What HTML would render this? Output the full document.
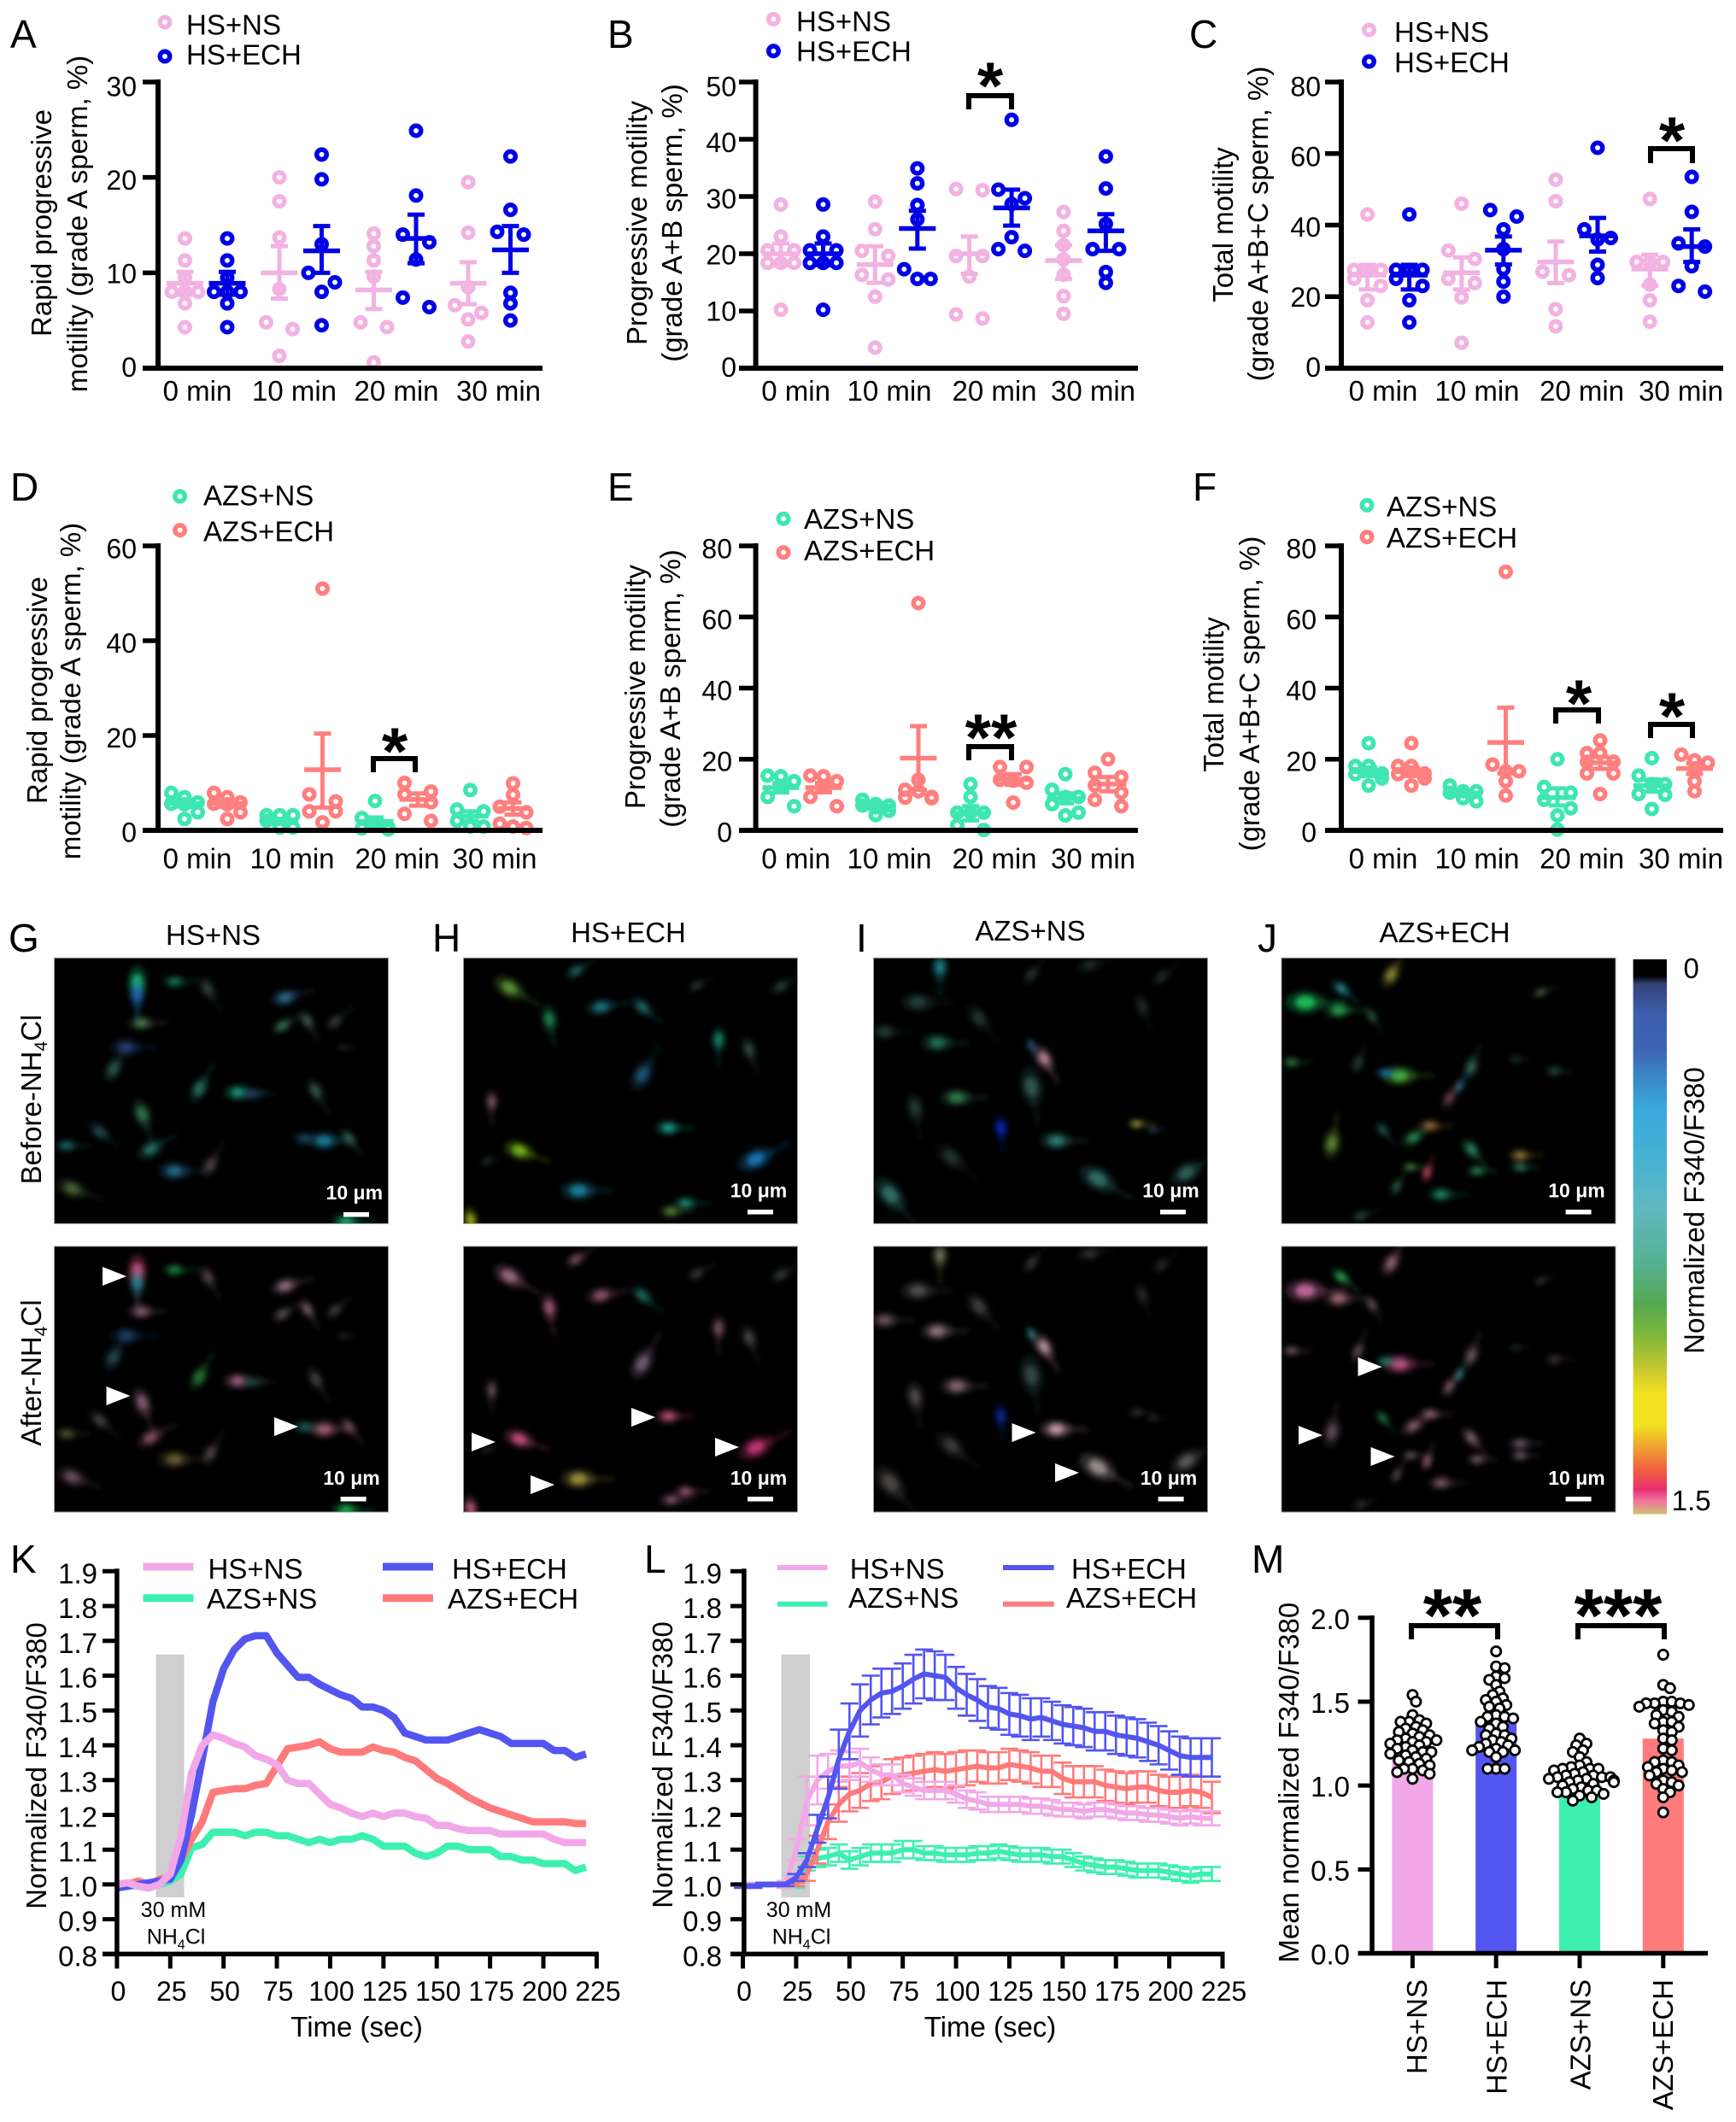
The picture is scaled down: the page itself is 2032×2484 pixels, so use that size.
<!DOCTYPE html>
<html lang="en">
<head>
<meta charset="utf-8">
<title>Sperm motility and calcium response figure</title>
<style>
html,body{margin:0;padding:0;background:#fff;}
svg{display:block;}
text{font-family:"Liberation Sans",Arial,sans-serif;fill:#000;}
.t33{font-size:33px;}
.t32{font-size:32px;}
.let{font-size:46px;}
.star{font-size:78px;font-weight:bold;text-anchor:middle;}
.starm{font-size:88px;font-weight:bold;text-anchor:middle;}
.bk{fill:none;stroke:#000;stroke-width:6;}
.mid{text-anchor:middle;}
.sub{font-size:21px;}
</style>
</head>
<body>
<svg id="figure" xmlns="http://www.w3.org/2000/svg" width="2032" height="2484" viewBox="0 0 2032 2484">
<defs>
<filter id="soft" x="-20%" y="-20%" width="140%" height="140%"><feGaussianBlur stdDeviation="3.2"/></filter>
<linearGradient id="cbar" x1="0" y1="0" x2="0" y2="1">
<stop offset="0" stop-color="#000"/><stop offset=".03" stop-color="#000"/><stop offset=".045" stop-color="#33437a"/>
<stop offset=".1" stop-color="#3d5fae"/><stop offset=".16" stop-color="#3f62b5"/><stop offset=".2" stop-color="#3a80c0"/>
<stop offset=".27" stop-color="#3aa8dc"/><stop offset=".33" stop-color="#40b0d8"/><stop offset=".45" stop-color="#60b8c0"/>
<stop offset=".55" stop-color="#55b090"/><stop offset=".62" stop-color="#55a850"/><stop offset=".68" stop-color="#80b838"/>
<stop offset=".74" stop-color="#c8c830"/><stop offset=".78" stop-color="#f0e020"/><stop offset=".84" stop-color="#f0e020"/>
<stop offset=".88" stop-color="#f0a030"/><stop offset=".92" stop-color="#f06040"/><stop offset=".955" stop-color="#e83070"/>
<stop offset=".975" stop-color="#f070a0"/><stop offset="1" stop-color="#d0c070"/>
</linearGradient>
</defs>

<!-- panel letters -->
<g>
<text class="let" x="12" y="56">A</text>
<text class="let" x="711" y="56">B</text>
<text class="let" x="1392" y="56">C</text>
<text class="let" x="12" y="586">D</text>
<text class="let" x="711" y="586">E</text>
<text class="let" x="1396" y="586">F</text>
<text class="let" x="10" y="1114">G</text>
<text class="let" x="506" y="1114">H</text>
<text class="let" x="1002" y="1114">I</text>
<text class="let" x="1472" y="1114">J</text>
<text class="let" x="12" y="1841">K</text>
<text class="let" x="754" y="1841">L</text>
<text class="let" x="1465" y="1841">M</text>
</g>

<!-- dot panel titles -->
<g>
<text class="t33 mid" transform="translate(60,261) rotate(-90)">Rapid progressive</text>
<text class="t33 mid" transform="translate(102,262) rotate(-90)">motility (grade A sperm, %)</text>
<text class="t33 mid" transform="translate(757,261) rotate(-90)">Progressive motility</text>
<text class="t33 mid" transform="translate(798,261) rotate(-90)">(grade A+B sperm, %)</text>
<text class="t33 mid" transform="translate(1443,263) rotate(-90)">Total motility</text>
<text class="t33 mid" transform="translate(1484,262) rotate(-90)">(grade A+B+C sperm, %)</text>
<text class="t33 mid" transform="translate(55,808) rotate(-90)">Rapid progressive</text>
<text class="t33 mid" transform="translate(94,809) rotate(-90)">motility (grade A sperm, %)</text>
<text class="t33 mid" transform="translate(755,804) rotate(-90)">Progressive motility</text>
<text class="t33 mid" transform="translate(796,806) rotate(-90)">(grade A+B sperm, %)</text>
<text class="t33 mid" transform="translate(1432,813) rotate(-90)">Total motility</text>
<text class="t33 mid" transform="translate(1474,812) rotate(-90)">(grade A+B+C sperm, %)</text>
</g>

<!-- dot panel legends -->
<g fill="none" stroke-width="5.5">
<circle cx="193" cy="26" r="5.75" stroke="#f2b2e2"/>
<circle cx="193" cy="66" r="5.75" stroke="#0000e6"/>
<circle cx="905.4" cy="22.5" r="5.75" stroke="#f2b2e2"/>
<circle cx="905.4" cy="59.7" r="5.75" stroke="#0000e6"/>
<circle cx="1602.5" cy="35" r="5.75" stroke="#f2b2e2"/>
<circle cx="1602.5" cy="72" r="5.75" stroke="#0000e6"/>
<circle cx="210.6" cy="581" r="5.75" stroke="#3fe6b2"/>
<circle cx="210.6" cy="620.6" r="5.75" stroke="#ff7f7f"/>
<circle cx="917" cy="607.3" r="5.75" stroke="#3fe6b2"/>
<circle cx="917" cy="646.8" r="5.75" stroke="#ff7f7f"/>
<circle cx="1600" cy="591.4" r="5.75" stroke="#3fe6b2"/>
<circle cx="1600" cy="628.6" r="5.75" stroke="#ff7f7f"/>
</g>
<g>
<text class="t33" x="218" y="40.5">HS+NS</text>
<text class="t33" x="218" y="75.6">HS+ECH</text>
<text class="t33" x="932" y="36.5">HS+NS</text>
<text class="t33" x="932" y="71.3">HS+ECH</text>
<text class="t33" x="1632" y="49">HS+NS</text>
<text class="t33" x="1632" y="84.6">HS+ECH</text>
<text class="t33" x="238" y="591.4">AZS+NS</text>
<text class="t33" x="238" y="633.5">AZS+ECH</text>
<text class="t33" x="941" y="619">AZS+NS</text>
<text class="t33" x="941" y="656">AZS+ECH</text>
<text class="t33" x="1623" y="604.7">AZS+NS</text>
<text class="t33" x="1623" y="641">AZS+ECH</text>
</g>

<g id="plots"></g>

<!-- significance brackets -->
<g>
<path class="bk" d="M1134 128V112H1184V128"/>
<text class="star" x="1159" y="127">*</text>
<path class="bk" d="M1932 191V174H1981V191"/>
<text class="star" x="1957" y="191">*</text>
<path class="bk" d="M437 904V888H486V904"/>
<text class="star" x="462" y="906">*</text>
<path class="bk" d="M1134 890V874H1184V890"/>
<text class="star" x="1160" y="890">**</text>
<path class="bk" d="M1821 847V831H1871V847"/>
<text class="star" x="1848" y="850">*</text>
<path class="bk" d="M1932 864V848H1981V864"/>
<text class="star" x="1957" y="865">*</text>
<path class="bk" d="M1652 1919V1903H1753V1919"/>
<text class="starm" x="1700" y="1921">**</text>
<path class="bk" d="M1847 1919V1903H1948V1919"/>
<text class="starm" x="1894" y="1921">***</text>
</g>

<!-- microscopy labels -->
<g>
<text class="t33 mid" x="249.5" y="1106">HS+NS</text>
<text class="t33 mid" x="735.5" y="1103">HS+ECH</text>
<text class="t33 mid" x="1206" y="1101">AZS+NS</text>
<text class="t33 mid" x="1691" y="1103">AZS+ECH</text>
<text class="t33 mid" transform="translate(48,1287) rotate(-90)">Before-NH<tspan class="sub" dy="7">4</tspan><tspan dy="-7">Cl</tspan></text>
<text class="t33 mid" transform="translate(48,1607) rotate(-90)">After-NH<tspan class="sub" dy="7">4</tspan><tspan dy="-7">Cl</tspan></text>
<rect x="1911.6" y="1123" width="39.4" height="649.5" fill="url(#cbar)"/>
<text class="t33 mid" x="1979.7" y="1145">0</text>
<text class="t33 mid" x="1979.7" y="1768">1.5</text>
<text class="t33 mid" transform="translate(1994.6,1417) rotate(-90)">Normalized F340/F380</text>
</g>

<!-- K / L / M static text -->
<g>
<text class="t33 mid" transform="translate(54,2067) rotate(-90)">Normalized F340/F380</text>
<text class="t33 mid" x="417.6" y="2383.8">Time (sec)</text>
<text class="mid" style="font-size:25px" x="203" y="2244">30 mM</text>
<text class="mid" style="font-size:25px" x="206" y="2275.6">NH<tspan style="font-size:16px" dy="6">4</tspan><tspan dy="-6">Cl</tspan></text>
<line x1="167.5" x2="226.5" y1="1834" y2="1834" stroke="#f2a8e8" stroke-width="9"/>
<line x1="167.5" x2="226.5" y1="1870.7" y2="1870.7" stroke="#3df0b0" stroke-width="9"/>
<line x1="448" x2="507" y1="1834" y2="1834" stroke="#5355f0" stroke-width="9"/>
<line x1="448" x2="507" y1="1870.7" y2="1870.7" stroke="#ff7a7a" stroke-width="9"/>
<text class="t33" x="243.5" y="1848">HS+NS</text>
<text class="t33" x="242" y="1883">AZS+NS</text>
<text class="t33" x="529" y="1848">HS+ECH</text>
<text class="t33" x="524" y="1883">AZS+ECH</text>

<text class="t33 mid" transform="translate(787,2066) rotate(-90)">Normalized F340/F380</text>
<text class="t33 mid" x="1159" y="2383.8">Time (sec)</text>
<text class="mid" style="font-size:25px" x="935" y="2244">30 mM</text>
<text class="mid" style="font-size:25px" x="938" y="2275.6">NH<tspan style="font-size:16px" dy="6">4</tspan><tspan dy="-6">Cl</tspan></text>
<line x1="910" x2="968.6" y1="1835" y2="1835" stroke="#f2a8e8" stroke-width="6"/>
<line x1="910" x2="968.6" y1="1877.7" y2="1877.7" stroke="#3df0b0" stroke-width="6"/>
<line x1="1174" x2="1233.6" y1="1835" y2="1835" stroke="#5355f0" stroke-width="6"/>
<line x1="1174" x2="1233.6" y1="1877.7" y2="1877.7" stroke="#ff7a7a" stroke-width="6"/>
<text class="t33" x="994.7" y="1848">HS+NS</text>
<text class="t33" x="993" y="1882">AZS+NS</text>
<text class="t33" x="1254" y="1848">HS+ECH</text>
<text class="t33" x="1248" y="1882">AZS+ECH</text>

<text class="t33 mid" transform="translate(1520,2086.7) rotate(-90)">Mean normalized F340/F380</text>
</g>
</svg>

<script>
/* ===== category and tick labels ===== */
const timeCats = ['0 min', '10 min', '20 min', '30 min'];
const aTicks = [0, 10, 20, 30];
const bTicks = [0, 10, 20, 30, 40, 50];
const cTicks = [0, 20, 40, 60, 80];
const dTicks = [0, 20, 40, 60];
const eTicks = [0, 20, 40, 60, 80];
const fTicks = [0, 20, 40, 60, 80];

/* ===== panel A ===== */
const aNsPoints = [[13.6,11.3,9.5,8,8,8,6.8,4.3],[20,17.5,13.7,8.3,4.8,4.1,1.3],[14.1,12.8,11.3,9.6,4.8,4.3,0.6],[19.5,14.2,8.5,6.6,5.8,5.1,2.8]];
const aEchPoints = [[13.6,11.3,9.5,8,8,8,6.8,4.3],[22.4,19.8,13,10,9,8,4.5],[24.9,18.1,14,13.2,11.4,7.4,6.4],[22.2,16.6,14.3,14,7.9,6.8,5]];
const aNsMean = [8.9,10,8.2,8.9];
const aNsUpper = [10.1,12.8,10.1,11.1];
const aNsLower = [7.7,7.3,6.2,6.7];
const aEchMean = [8.9,12.3,13.6,12.4];
const aEchUpper = [10.1,14.9,16.1,14.9];
const aEchLower = [7.7,10,11,10];

/* ===== panel B ===== */
const bNsPoints = [[28.6,23,20.6,20.6,18.4,18.4,18.4,10.2],[29.1,24.3,20.5,19.6,16.3,15.5,12.5,3.6],[31.3,31.1,19.6,19.6,16,9.4,8.7],[27.3,24,21.5,19,16.3,12.6,9.5]];
const bEchPoints = [[28.6,23,20.6,20.6,18.4,18.4,18.4,10.2],[34.9,32.3,28.5,26,17.3,15.6,15.6],[43.4,31.2,29.7,28.7,22.9,20.8,20.5],[37,31.4,25.2,20.8,20.8,16.8,14.9]];
const bNsMean = [20,18.1,20,18.8];
const bNsUpper = [21.8,21.3,23,21.5];
const bNsLower = [18,14.9,16.5,15.6];
const bEchMean = [20,24.4,28,24];
const bEchUpper = [21.8,27.5,31.2,26.9];
const bEchLower = [18,20.9,24.9,20.5];

/* ===== panel C ===== */
const cNsPoints = [[43,27.5,27.5,27.5,25,23,19,12.8],[46,32.9,30.5,25,23.8,19.8,7.1],[52.7,46.7,27,26,16.5,11.7],[47.3,29.7,29.7,29.7,23.4,19,13]];
const cEchPoints = [[43,27.5,27.5,27.5,25,23,19,12.8],[44.2,42.4,38.8,33.3,27.7,24.2,20],[61.6,38.8,36.4,36,28.9,25.2],[53.5,43.7,34.9,34,28.5,23,21.4]];
const cNsMean = [26,26.7,29.7,27.7];
const cNsUpper = [28.9,31,35.4,31.7];
const cNsLower = [22,22,23.8,23];
const cEchMean = [26,33,37,34];
const cEchUpper = [28.9,36.8,42,38.8];
const cEchLower = [22,29,32.6,29.7];

/* ===== panel D ===== */
const dNsPoints = [[7.9,7,5.9,5.6,5.5,3.8,2.4],[3.2,3.2,3.2,2,0.6,0.6,0.6],[6.2,2.6,1.4,0.6,0.4,0.2],[8.5,4.4,4,2,0.8,0.8]];
const dEchPoints = [[7.9,7,5.9,5.6,5.5,3.8,2.4],[51,7.6,6.1,4,4,1.7],[10,8.2,7.6,5.9,3.5,2],[9.9,7.5,5,3.8,1.4,0.8,0.5]];
const dNsMean = [5.7,1.9,1.9,3];
const dNsUpper = [6.4,2.4,2.7,4];
const dNsLower = [5,1.4,1.1,2];
const dEchMean = [5.7,12.8,6.5,4.6];
const dEchUpper = [6.4,20.4,7.8,5.9];
const dEchLower = [5,4.8,5.2,3.3];

/* ===== panel E ===== */
const eNsPoints = [[15.4,15.2,13.8,12.2,9.4,6.8],[8.6,7.4,7,7,6.5,5.5,4.3],[13,9.4,5,5,5,1.4,0.1],[15.8,11.4,9.4,9.4,7.4,5,4.2]];
const eEchPoints = [[15.4,15.2,13.8,12.2,9.4,6.8],[63.9,14.2,11.4,11,9.4,9.2,9],[17.8,17.8,14.2,14,13.4,7.8],[20,16.2,15,12.6,10.6,8.6,6.8]];
const eNsMean = [12,6.8,4.8,9];
const eNsUpper = [13.3,7.5,6.8,10.4];
const eNsLower = [10.7,6.1,2.8,7.6];
const eEchMean = [12,20.3,14.3,13];
const eEchUpper = [13.3,29.3,15.8,15];
const eEchLower = [10.7,11.4,12.8,11];

/* ===== panel F ===== */
const fNsPoints = [[24.5,18.1,18.1,16,15.8,14.6,12.6],[12.6,11,11,10.6,9,8.2],[20,12.2,10.6,8.6,6.2,4.2,0.2],[20.3,15.4,13,13,10.2,10,6]];
const fEchPoints = [[24.5,18.1,18.1,16,15.8,14.6,12.6],[72.7,18.5,16.6,16.6,13.8,9.8],[25.3,21.7,21.7,19.3,19.3,19.3,16,16,10.2],[21.3,19.7,19,17,13.8,11]];
const fNsMean = [16.5,10.5,9.2,12.6];
const fNsUpper = [17.7,11.2,11.8,14.3];
const fNsLower = [15.3,9.8,7,10.9];
const fEchMean = [16.5,24.7,19,17.4];
const fEchUpper = [17.7,34.5,20.7,18.9];
const fEchLower = [15.3,16,17.3,15.9];

/* ===== panels K / L ===== */
const timeTicks = [0,25,50,75,100,125,150,175,200,225];
const ratioTicks = [0.8,0.9,1.0,1.1,1.2,1.3,1.4,1.5,1.6,1.7,1.8,1.9];
const timeSec = [0,5,10,15,20,25,30,35,40,45,50,55,60,65,70,75,80,85,90,95,100,105,110,115,120,125,130,135,140,145,150,155,160,165,170,175,180,185,190,195,200,205,210,215,220];
const kHsNs = [1,1.005,.995,.99,1,1.03,1.14,1.32,1.4,1.43,1.42,1.405,1.395,1.37,1.36,1.345,1.3,1.29,1.29,1.26,1.23,1.22,1.205,1.195,1.205,1.195,1.205,1.205,1.195,1.19,1.17,1.17,1.16,1.155,1.155,1.155,1.145,1.145,1.145,1.145,1.145,1.13,1.12,1.12,1.12];
const kHsEch = [.99,.995,1,1.005,1.01,1.015,1.07,1.2,1.36,1.525,1.62,1.675,1.705,1.715,1.715,1.665,1.63,1.595,1.595,1.575,1.56,1.545,1.535,1.51,1.51,1.5,1.48,1.435,1.425,1.415,1.415,1.415,1.425,1.435,1.445,1.435,1.425,1.405,1.405,1.405,1.405,1.385,1.385,1.365,1.375];
const kAzsNs = [1,1,.995,.99,1,1.01,1.03,1.105,1.115,1.15,1.15,1.15,1.14,1.15,1.15,1.14,1.14,1.13,1.12,1.13,1.12,1.13,1.13,1.14,1.13,1.11,1.11,1.11,1.09,1.08,1.09,1.11,1.11,1.1,1.1,1.1,1.08,1.08,1.07,1.07,1.06,1.06,1.06,1.04,1.05];
const kAzsEch = [1,1,1.01,1,1.015,1.02,1.07,1.13,1.18,1.265,1.27,1.275,1.275,1.285,1.29,1.34,1.39,1.395,1.4,1.41,1.39,1.38,1.38,1.38,1.395,1.385,1.38,1.365,1.355,1.33,1.305,1.29,1.27,1.25,1.235,1.22,1.21,1.2,1.19,1.18,1.18,1.18,1.18,1.175,1.175];

const lHsNs = [1,1,1,1,1,1.1,1.24,1.3,1.325,1.34,1.34,1.35,1.33,1.315,1.315,1.29,1.28,1.27,1.27,1.27,1.26,1.245,1.24,1.23,1.23,1.23,1.23,1.225,1.225,1.22,1.215,1.215,1.21,1.215,1.215,1.21,1.205,1.205,1.2,1.2,1.195,1.19,1.195,1.19,1.19];
const lHsNsSem = [.004,.004,.004,.004,.01,.03,.07,.07,.05,.045,.04,.04,.035,.03,.03,.025,.025,.025,.025,.025,.025,.025,.025,.022,.022,.022,.022,.022,.022,.022,.02,.02,.02,.02,.02,.02,.02,.02,.02,.02,.02,.02,.02,.02,.02];
const lHsEch = [.995,.995,1,1,1,1.02,1.07,1.16,1.25,1.36,1.44,1.5,1.53,1.55,1.555,1.57,1.59,1.605,1.6,1.595,1.565,1.545,1.53,1.51,1.505,1.49,1.485,1.475,1.48,1.47,1.46,1.455,1.45,1.44,1.44,1.43,1.425,1.42,1.41,1.4,1.385,1.37,1.365,1.365,1.365];
const lHsEchSem = [.005,.005,.005,.005,.005,.01,.02,.04,.06,.085,.08,.075,.07,.07,.065,.065,.07,.07,.07,.065,.06,.06,.06,.06,.06,.06,.06,.06,.055,.055,.055,.055,.055,.055,.055,.055,.055,.055,.055,.055,.055,.055,.055,.055,.055];
const lAzsNs = [1,1,1,1,1,1,1.06,1.075,1.08,1.09,1.07,1.08,1.09,1.09,1.09,1.1,1.1,1.09,1.09,1.085,1.085,1.085,1.09,1.09,1.095,1.09,1.085,1.085,1.085,1.08,1.08,1.07,1.06,1.055,1.05,1.05,1.045,1.04,1.04,1.04,1.035,1.03,1.025,1.03,1.03];
const lAzsNsSem = [.003,.003,.003,.003,.005,.01,.02,.025,.025,.025,.025,.025,.025,.025,.025,.025,.025,.02,.02,.02,.02,.02,.02,.02,.02,.02,.02,.02,.02,.02,.02,.02,.02,.02,.02,.02,.02,.02,.02,.02,.02,.02,.02,.02,.02];
const lAzsEch = [1,1,1,1,1,1,1.03,1.1,1.18,1.23,1.26,1.27,1.29,1.295,1.31,1.315,1.32,1.325,1.33,1.325,1.33,1.335,1.34,1.335,1.335,1.345,1.34,1.335,1.325,1.325,1.305,1.295,1.295,1.295,1.285,1.28,1.275,1.28,1.28,1.27,1.265,1.265,1.27,1.265,1.25];
const lAzsEchSem = [.003,.003,.003,.003,.005,.005,.02,.04,.05,.05,.05,.05,.05,.05,.05,.05,.05,.05,.05,.05,.05,.05,.045,.045,.045,.045,.045,.045,.045,.045,.045,.045,.045,.045,.045,.045,.045,.045,.045,.045,.045,.045,.045,.045,.045];

/* ===== panel M ===== */
const mCats = ['HS+NS', 'HS+ECH', 'AZS+NS', 'AZS+ECH'];
const mTicks = [0, 0.5, 1, 1.5, 2];
const mBarMeans = [1.235, 1.395, 1.02, 1.28];
const mHsNs = [1.54,1.5,1.42,1.39,1.38,1.38,1.37,1.35,1.34,1.33,1.32,1.31,1.3,1.29,1.28,1.27,1.27,1.26,1.26,1.25,1.24,1.23,1.22,1.21,1.2,1.2,1.19,1.18,1.17,1.16,1.15,1.14,1.13,1.12,1.1,1.1,1.09,1.08,1.07,1.04];
const mHsEch = [1.8,1.71,1.7,1.65,1.64,1.63,1.6,1.56,1.54,1.52,1.51,1.5,1.48,1.47,1.46,1.42,1.41,1.41,1.4,1.38,1.37,1.35,1.34,1.31,1.3,1.3,1.28,1.27,1.26,1.25,1.24,1.23,1.22,1.21,1.21,1.2,1.2,1.17,1.1,1.1,1.1];
const mAzsNs = [1.28,1.25,1.24,1.21,1.2,1.17,1.14,1.12,1.11,1.1,1.1,1.1,1.09,1.08,1.07,1.06,1.06,1.05,1.05,1.05,1.04,1.04,1.03,1.03,1.02,1.02,1.01,1,.99,.98,.97,.97,.96,.96,.95,.94,.93,.91];
const mAzsEch = [1.78,1.6,1.58,1.5,1.5,1.49,1.49,1.49,1.48,1.47,1.45,1.44,1.42,1.41,1.38,1.38,1.37,1.35,1.33,1.32,1.28,1.27,1.22,1.21,1.15,1.14,1.14,1.12,1.11,1.1,1.09,1.08,1.08,1.06,1.03,1.02,1.01,1,.98,.96,.93,.84];

/* ===== microscopy spot decoration (not chart data) ===== */
const spotsG = [[248,175,90,12,'#20e090','#ff60a0'],[248,205,90,10,'#2a80e0','#30a0b0'],[315,172,0,8,'#1f9070','#20a050'],[375,190,60,9,'#405050','#605058'],[515,213,-15,10,'#3a80a8','#b08098'],[255,278,0,9,'#5a9060','#a07088'],[228,340,0,11,'#2a4a90','#204878'],[205,395,-60,10,'#2f6a60','#2a5a60'],[510,285,-30,8,'#4a8a60','#6a6068'],[555,272,60,8,'#506a60','#907080'],[605,275,-40,8,'#404a48','#484848'],[620,340,0,5,'#303030','#303030'],[360,445,-60,10,'#2a8a70','#309040'],[430,455,0,10,'#20b090','#c07098'],[455,458,0,8,'#2a5080','#205a50'],[570,450,60,9,'#3f6a58','#505050'],[257,510,70,11,'#3a8a60','#a07088'],[180,555,40,9,'#2a5a60','#505050'],[120,590,0,8,'#20807a','#606040'],[272,600,-30,10,'#2a8a80','#a06078'],[585,578,0,11,'#20a0c0','#c87090'],[550,572,0,8,'#205a80','#207070'],[630,572,50,8,'#3a7a60','#906070'],[315,655,0,11,'#2a80a8','#807040'],[380,640,-60,9,'#605058','#605058'],[130,700,20,11,'#5a7a40','#806070'],[625,785,0,10,'#20d080','#20d060']];
const spotsH = [[920,188,30,12,'#70b040','#c080a0'],[1040,145,-30,8,'#207a70','#906070'],[1085,237,-10,10,'#2090a0','#b06888'],[1160,237,40,9,'#2a7a80','#208070'],[992,268,80,10,'#20a060','#c06890'],[1258,182,-30,7,'#304040','#484848'],[1410,185,-30,8,'#305048','#404840'],[1298,320,90,9,'#20a080','#906078'],[1353,345,70,9,'#3a5a50','#585858'],[1160,410,-60,12,'#206890','#907090'],[888,478,90,8,'#a06878','#806068'],[1207,545,0,9,'#20c0a0','#e06090'],[938,603,20,11,'#90e020','#f060a0'],[1365,625,-25,13,'#2090e0','#f04090'],[1045,705,0,12,'#20a0c0','#c0b050'],[1238,737,0,8,'#20b090','#b06880'],[1212,758,0,8,'#60a040','#a06080'],[850,780,80,9,'#c0d020','#e07090'],[880,630,-20,6,'#303838','#282828']];
const spotsI = [[130,135,90,10,'#20a0a0','#808860'],[295,155,-50,8,'#304040','#404040'],[400,130,-10,9,'#283530','#403838'],[90,225,0,12,'#2a5048','#606060'],[200,265,50,11,'#2a4038','#505050'],[30,300,0,10,'#2a4a40','#806870'],[125,328,0,11,'#2a8a68','#b09098'],[318,368,60,10,'#e0a0b8','#e0b0c0'],[295,335,70,6,'#2a70a0','#40a0a8'],[295,440,80,14,'#3a6a60','#3a5a58'],[160,468,0,11,'#3a9a60','#a08088'],[85,495,80,11,'#2a4a40','#605858'],[240,545,85,9,'#1030e0','#1030b0'],[340,578,0,11,'#3a9a90','#f0c0d0'],[485,535,0,6,'#c0c050','#404040'],[515,550,0,5,'#305070','#383838'],[150,620,40,12,'#2a4038','#484848'],[415,675,30,14,'#3a8a80','#c0b0b0'],[40,715,50,14,'#3a8a80','#605858'],[575,660,-30,12,'#3a7a70','#707070'],[495,235,70,9,'#283530','#303030'],[530,160,-40,8,'#283530','#303030']];
const spotsJ = [[790,225,0,14,'#20f070','#f080c0'],[850,245,0,10,'#30c060','#c08090'],[855,190,40,8,'#30a0b0','#30c060'],[945,155,-60,10,'#a0a040','#b07088'],[910,260,60,7,'#306a48','#806070'],[960,412,0,12,'#60e040','#f060a0'],[935,405,0,7,'#2090d0','#20a090'],[765,378,0,7,'#3a8a50','#806878'],[885,380,-70,8,'#304840','#705868'],[1090,390,-70,9,'#3a7a68','#806870'],[1068,440,-60,6,'#3090c0','#30a0a0'],[1050,470,-60,8,'#805060','#906878'],[1015,540,0,8,'#c08040','#b07088'],[838,585,-80,11,'#70a040','#705868'],[930,550,50,7,'#2a6a60','#208a50'],[985,570,-30,9,'#30a060','#a07088'],[1090,600,50,9,'#30a070','#907080'],[1178,615,0,8,'#b09040','#806878'],[1010,660,-70,7,'#e05070','#b07088'],[980,645,0,6,'#50a050','#906878'],[1100,655,0,7,'#30a060','#907080'],[1178,645,0,7,'#309060','#806878'],[1035,715,0,9,'#20a070','#906878'],[955,695,-60,7,'#306a50','#605058'],[1240,400,0,7,'#2a5a48','#503848'],[1215,200,-20,6,'#5a7a40','#403838'],[1170,370,0,5,'#2a4a40','#2a3a38'],[890,770,-20,7,'#2a5a48','#403038']];

/* ===== helpers ===== */
const SVGNS = 'http://www.w3.org/2000/svg';
const plots = document.getElementById('plots');
function mk(parent, tag, attrs, text) {
  const el = document.createElementNS(SVGNS, tag);
  for (const k in attrs) el.setAttribute(k, attrs[k]);
  if (text !== undefined) el.textContent = text;
  parent.appendChild(el);
  return el;
}
function linear(d0, d1, r0, r1) {
  return function (v) { return r0 + (v - d0) * (r1 - r0) / (d1 - d0); };
}

/* bin values that sit closer than a marker height, then lay each bin out side by side */
function binnedOffsets(vals, y, binPx) {
  const sorted = vals.slice().sort(function (a, b) { return b - a; });
  const out = [];
  let bin = [];
  function flush() {
    const layouts = { 1: [0], 2: [-1, 1], 3: [-1, 0, 1] };
    const lay = layouts[bin.length] || [0];
    bin.forEach(function (v, i) { out.push({ v: v, k: lay[i] }); });
    bin = [];
  }
  sorted.forEach(function (v) {
    if (bin.length && (Math.abs(y(bin[0]) - y(v)) > binPx || bin.length === 3)) flush();
    bin.push(v);
  });
  if (bin.length) flush();
  return out;
}

function drawDotAxes(g, cfg, ticks, y) {
  const yLine = mk(g, 'line', { x1: cfg.axisX, x2: cfg.axisX, y1: cfg.top - 3, y2: cfg.bottom + 3, stroke: '#000', 'stroke-width': 6 });
  
  
  const xLine = mk(g, 'line', { x1: cfg.xLeft, x2: cfg.xRight, y1: cfg.bottom, y2: cfg.bottom, stroke: '#000', 'stroke-width': 6 });
  
  
  const maxV = ticks[ticks.length - 1];
  ticks.forEach(function (t) {
    const tick = mk(g, 'line', { x1: cfg.xLeft, x2: cfg.axisX, y1: y(t), y2: y(t), stroke: '#000', 'stroke-width': 5.5 });
    
    
    const dy = cfg.dyBottom + (cfg.dyTop - cfg.dyBottom) * t / maxV;
    const lab = mk(g, 'text', { class: 't32', x: cfg.labelRight, y: y(t) + dy + 11.5, 'text-anchor': 'end' }, String(t));
    
    
  });
  timeCats.forEach(function (c, i) {
    const lab = mk(g, 'text', { class: 't33 mid', x: cfg.catLabelX[i], y: cfg.catBaseline }, c);
    
    
  });
}

function drawDotSeries(g, cfg, y, slot, color, points, means, uppers, lowers) {
  const unit = 15.5;
  points.forEach(function (vals, i) {
    const cx = cfg.x0 + i * cfg.pitch + slot * cfg.gap;
    binnedOffsets(vals, y, 11.5).forEach(function (p) {
      const dot = mk(g, 'circle', { cx: cx + p.k * unit, cy: y(p.v), r: 5.75, fill: 'none', stroke: color, 'stroke-width': 5.5 });
      
      
    });
    const stem = mk(g, 'line', { x1: cx, x2: cx, y1: y(uppers[i]), y2: y(lowers[i]), stroke: color, 'stroke-width': 5 });
    
    
    const capTop = mk(g, 'line', { x1: cx - 10, x2: cx + 10, y1: y(uppers[i]), y2: y(uppers[i]), stroke: color, 'stroke-width': 5 });
    
    
    const capLow = mk(g, 'line', { x1: cx - 10, x2: cx + 10, y1: y(lowers[i]), y2: y(lowers[i]), stroke: color, 'stroke-width': 5 });
    
    
    const mean = mk(g, 'line', { x1: cx - 21.5, x2: cx + 21.5, y1: y(means[i]), y2: y(means[i]), stroke: color, 'stroke-width': 5.5 });
    
    
  });
}

const PINK = '#f2b2e2', BLUE = '#0000e6', MINT = '#3fe6b2', CORAL = '#ff7f7f';

function dotPanel(name, cfg, ticks, colorA, colorB, ptsA, mA, uA, lA, ptsB, mB, uB, lB) {
  const g = mk(plots, 'g', {});
  
  
  const maxV = ticks[ticks.length - 1];
  const y = linear(0, maxV, cfg.bottom, cfg.top);
  drawDotSeries(g, cfg, y, 0, colorA, ptsA, mA, uA, lA);
  drawDotSeries(g, cfg, y, 1, colorB, ptsB, mB, uB, lB);
  drawDotAxes(g, cfg, ticks, y);
}

dotPanel('panel-a-rapid-progressive', { axisX: 185, top: 96, bottom: 431, xLeft: 167, xRight: 635, x0: 216.5, pitch: 110.5, gap: 49.5, labelRight: 160, catLabelX: [231, 344.5, 464, 583.5], catBaseline: 469, dyTop: 5, dyBottom: -1.5 }, aTicks, PINK, BLUE, aNsPoints, aNsMean, aNsUpper, aNsLower, aEchPoints, aEchMean, aEchUpper, aEchLower);
dotPanel('panel-b-progressive', { axisX: 884.6, top: 96, bottom: 431, xLeft: 865, xRight: 1332, x0: 914, pitch: 110.3, gap: 49.5, labelRight: 862, catLabelX: [931.6, 1041, 1164, 1279.5], catBaseline: 469, dyTop: 5, dyBottom: -1.5 }, bTicks, PINK, BLUE, bNsPoints, bNsMean, bNsUpper, bNsLower, bEchPoints, bEchMean, bEchUpper, bEchLower);
dotPanel('panel-c-total', { axisX: 1570, top: 96, bottom: 431, xLeft: 1551, xRight: 2017, x0: 1600.6, pitch: 110.2, gap: 49, labelRight: 1546, catLabelX: [1619, 1729, 1851.6, 1967.6], catBaseline: 469, dyTop: 5, dyBottom: -1.5 }, cTicks, PINK, BLUE, cNsPoints, cNsMean, cNsUpper, cNsLower, cEchPoints, cEchMean, cEchUpper, cEchLower);
dotPanel('panel-d-rapid-progressive', { axisX: 185, top: 639, bottom: 972, xLeft: 167, xRight: 635, x0: 216, pitch: 111.5, gap: 50, labelRight: 160, catLabelX: [231, 342, 465, 579], catBaseline: 1016.6, dyTop: 3, dyBottom: 2 }, dTicks, MINT, CORAL, dNsPoints, dNsMean, dNsUpper, dNsLower, dEchPoints, dEchMean, dEchUpper, dEchLower);
dotPanel('panel-e-progressive', { axisX: 884.6, top: 639, bottom: 972, xLeft: 865, xRight: 1332, x0: 914, pitch: 111, gap: 50, labelRight: 857, catLabelX: [931.6, 1041, 1164, 1279.5], catBaseline: 1016.6, dyTop: 3, dyBottom: 2 }, eTicks, MINT, CORAL, eNsPoints, eNsMean, eNsUpper, eNsLower, eEchPoints, eEchMean, eEchUpper, eEchLower);
dotPanel('panel-f-total', { axisX: 1570, top: 639, bottom: 972, xLeft: 1551, xRight: 2017, x0: 1602, pitch: 110.5, gap: 50, labelRight: 1541, catLabelX: [1619, 1729, 1851.6, 1967.6], catBaseline: 1016.6, dyTop: 3, dyBottom: 2 }, fTicks, MINT, CORAL, fNsPoints, fNsMean, fNsUpper, fNsLower, fEchPoints, fEchMean, fEchUpper, fEchLower);

/* ===== microscopy ===== */
function micro(name, px, py, zx0, spots, after, scale, arrows) {
  const w = 391, h = 311;
  const box = mk(plots, 'g', {});
  
  
  const bg = mk(box, 'rect', { x: px, y: py, width: w, height: h, fill: '#000', stroke: '#999', 'stroke-width': 1 });
  
  
  const clip = mk(box, 'svg', { x: px, y: py, width: w, height: h, viewBox: '0 0 ' + w + ' ' + h });
  const blur = mk(clip, 'g', { filter: 'url(#soft)', opacity: .78 });
  spots.forEach(function (s) {
    const sx = (s[0] - zx0) / 1.543, sy = (s[1] - 112) / 2.178;
    const col = after ? s[5] : s[4];
    const rot = 'rotate(' + s[2] + ' ' + sx + ' ' + sy + ')';
    const tail = mk(blur, 'line', { x1: sx, x2: sx + s[3] * 3.4, y1: sy, y2: sy, stroke: col, 'stroke-width': 3.5, opacity: .35, transform: rot });
    
    
    const halo = mk(blur, 'ellipse', { cx: sx, cy: sy, rx: s[3] * 1.7, ry: s[3] * 0.95, fill: col, opacity: .3, transform: rot });
    
    
    const head = mk(blur, 'ellipse', { cx: sx, cy: sy, rx: s[3] * 0.85, ry: s[3] * 0.55, fill: col, transform: rot });
    
    
  });
  const lab = mk(box, 'text', { x: scale.cx, y: scale.base, 'text-anchor': 'middle', style: 'font-size:23px;font-weight:bold;fill:#fff' }, '10 μm');
  
  
  const bar = mk(box, 'rect', { x: scale.bx, y: scale.by, width: 30, height: 5.5, fill: '#fff' });
  
  
  (arrows || []).forEach(function (a) {
    const tri = mk(box, 'polygon', { points: a[0] + ',' + a[1] + ' ' + (a[0] + 28) + ',' + (a[1] + 11) + ' ' + a[0] + ',' + (a[1] + 22), fill: '#fff' });
    
    
  });
}
micro('micrograph-hs-ns-before', 63.5, 1121.4, 98, spotsG, false, { cx: 414.8, base: 1404, bx: 402, by: 1419 });
micro('micrograph-hs-ns-after', 63.5, 1459, 98, spotsG, true, { cx: 411.5, base: 1738, bx: 398.6, by: 1752 }, [[120, 1483], [124.5, 1623], [321, 1659]]);
micro('micrograph-hs-ech-before', 542.5, 1121.4, 837, spotsH, false, { cx: 888, base: 1401.5, bx: 875, by: 1416 });
micro('micrograph-hs-ech-after', 542.5, 1459, 837, spotsH, true, { cx: 888, base: 1738, bx: 875, by: 1752 }, [[552, 1677], [621, 1727], [739, 1648], [837, 1683]]);
micro('micrograph-azs-ns-before', 1022.5, 1121.4, 10, spotsI, false, { cx: 1370.5, base: 1401.5, bx: 1358, by: 1416 });
micro('micrograph-azs-ns-after', 1022.5, 1459, 10, spotsI, true, { cx: 1368, base: 1738, bx: 1355.6, by: 1752 }, [[1184.5, 1666], [1235, 1713]]);
micro('micrograph-azs-ech-before', 1500, 1121.4, 747, spotsJ, false, { cx: 1845.5, base: 1401.5, bx: 1832.6, by: 1416 });
micro('micrograph-azs-ech-after', 1500, 1459, 747, spotsJ, true, { cx: 1845.5, base: 1738, bx: 1832.6, by: 1752 }, [[1589.5, 1589], [1520, 1669], [1604.5, 1694]]);

/* ===== time-course charts ===== */
function timeAxes(g, c, x, y) {
  const rect = mk(g, 'rect', { x: c.greyX, y: 1936.6, width: c.greyW, height: 284.4, fill: '#cfcfcf' });
  
  
}
function timeAxesTop(g, c, x, y) {
  const yLine = mk(g, 'line', { x1: c.axisX, x2: c.axisX, y1: y(1.9) - 3, y2: y(0.8) + 3, stroke: '#000', 'stroke-width': 5.5 });
  
  
  const xLine = mk(g, 'line', { x1: c.xLeft, x2: x(225) + 2.5, y1: y(0.8), y2: y(0.8), stroke: '#000', 'stroke-width': 5.5 });
  
  
  ratioTicks.forEach(function (t) {
    const tick = mk(g, 'line', { x1: c.xLeft, x2: c.axisX, y1: y(t), y2: y(t), stroke: '#000', 'stroke-width': 5 });
    
    
    const lab = mk(g, 'text', { class: 't33', x: c.labelRight, y: y(t) + 14, 'text-anchor': 'end' }, t.toFixed(1));
    
    
  });
  timeTicks.forEach(function (t) {
    const tick = mk(g, 'line', { x1: x(t), x2: x(t), y1: y(0.8), y2: y(0.8) + 17, stroke: '#000', 'stroke-width': 5 });
    
    
    const lab = mk(g, 'text', { class: 't32 mid', x: x(t) + 1.5, y: 2342 }, String(t));
    
    
  });
}
function curve(g, x, y, vals, color, width) {
  const pts = vals.map(function (v, i) { return x(timeSec[i]).toFixed(1) + ',' + y(v).toFixed(1); }).join(' ');
  const line = mk(g, 'polyline', { points: pts, fill: 'none', stroke: color, 'stroke-width': width, 'stroke-linejoin': 'round' });
  return line;
}

const CPINK = '#f2a8e8', CBLUE = '#5355f0', CMINT = '#3df0b0', CRED = '#ff7a7a';

/* K */
(function () {
  const g = mk(plots, 'g', {});
  
  
  const c = { axisX: 136.9, xLeft: 120, labelRight: 114, greyX: 182.6, greyW: 33 };
  const x = linear(0, 225, 136.9, 698.4);
  const y = linear(0.8, 1.9, 2287.4, 1839.3);
  timeAxes(g, c, x, y);
  const l1 = curve(g, x, y, kAzsNs, CMINT, 8.5);
  
  
  const l2 = curve(g, x, y, kAzsEch, CRED, 8.5);
  
  
  const l3 = curve(g, x, y, kHsEch, CBLUE, 8.5);
  
  
  const l4 = curve(g, x, y, kHsNs, CPINK, 8.5);
  
  
  timeAxesTop(g, c, x, y);
})();

/* L */
(function () {
  const g = mk(plots, 'g', {});
  
  
  const c = { axisX: 870.9, xLeft: 855, labelRight: 845, greyX: 914.5, greyW: 33.5 };
  const x = linear(0, 225, 869.5, 1431);
  const y = linear(0.8, 1.9, 2287.4, 1839.3);
  timeAxes(g, c, x, y);
  function errs(vals, sems, color) {
    vals.forEach(function (v, i) {
      const px = x(timeSec[i]);
      const bar = mk(g, 'path', { d: 'M' + (px - 10.5) + ' ' + y(v + sems[i]) + 'H' + (px + 10.5) + 'M' + px + ' ' + y(v + sems[i]) + 'V' + y(v - sems[i]) + 'M' + (px - 10.5) + ' ' + y(v - sems[i]) + 'H' + (px + 10.5), fill: 'none', stroke: color, 'stroke-width': 2.6 });
      
      
    });
  }
  errs(lAzsNs, lAzsNsSem, CMINT);
  const l1 = curve(g, x, y, lAzsNs, CMINT, 6);
  
  
  errs(lAzsEch, lAzsEchSem, CRED);
  const l2 = curve(g, x, y, lAzsEch, CRED, 6);
  
  
  errs(lHsNs, lHsNsSem, CPINK);
  const l4 = curve(g, x, y, lHsNs, CPINK, 6);
  
  
  errs(lHsEch, lHsEchSem, CBLUE);
  const l3 = curve(g, x, y, lHsEch, CBLUE, 6);
  
  
  timeAxesTop(g, c, x, y);
})();

/* M */
(function () {
  const g = mk(plots, 'g', {});
  
  
  const y = linear(0, 2, 2286.5, 1893.8);
  const slot = function (i) { return 1653.4 + i * 97.8; };
  const colors = [CPINK, CBLUE, CMINT, CRED];
  const sets = [mHsNs, mHsEch, mAzsNs, mAzsEch];
  const baselineOffsets = [16.4, 12.5, 12.3, 11];
  mBarMeans.forEach(function (m, i) {
    const bar = mk(g, 'rect', { x: slot(i) - 24, y: y(m), width: 48, height: y(0) - y(m), fill: colors[i] });
    
    
  });
  sets.forEach(function (vals, i) {
    const placed = [];
    vals.forEach(function (v) {
      const py = y(v);
      let off = 0;
      for (let n = 0; n < 40; n++) {
        const cand = (n % 2 ? 1 : -1) * Math.ceil(n / 2) * 2;
        const free = placed.every(function (p) { return Math.hypot(p[0] - cand, p[1] - py) >= 8.5; });
        if (free) { off = cand; break; }
        off = cand;
      }
      placed.push([off, py]);
      const dot = mk(g, 'circle', { cx: slot(i) + off, cy: py, r: 5.6, fill: '#fff', stroke: '#000', 'stroke-width': 2.8 });
      
      
    });
  });
  const yLine = mk(g, 'line', { x1: 1606, x2: 1606, y1: 1891, y2: 2289, stroke: '#000', 'stroke-width': 5.5 });
  
  
  const xLine = mk(g, 'line', { x1: 1589.5, x2: 1999, y1: y(0), y2: y(0), stroke: '#000', 'stroke-width': 5.5 });
  
  
  mTicks.forEach(function (t) {
    const tick = mk(g, 'line', { x1: 1589.5, x2: 1606, y1: y(t), y2: y(t), stroke: '#000', 'stroke-width': 5 });
    
    
    const lab = mk(g, 'text', { class: 't33', x: 1580, y: y(t) + 13, 'text-anchor': 'end' }, t.toFixed(1));
    
    
  });
  mCats.forEach(function (name, i) {
    const tick = mk(g, 'line', { x1: slot(i), x2: slot(i), y1: y(0), y2: 2304, stroke: '#000', 'stroke-width': 5 });
    
    
    const bx = slot(i) + baselineOffsets[i];
    const lab = mk(g, 'text', { class: 't33', 'text-anchor': 'end', transform: 'translate(' + bx + ',2317) rotate(-90)' }, name);
    
    
  });
})();
</script>
</body>
</html>
